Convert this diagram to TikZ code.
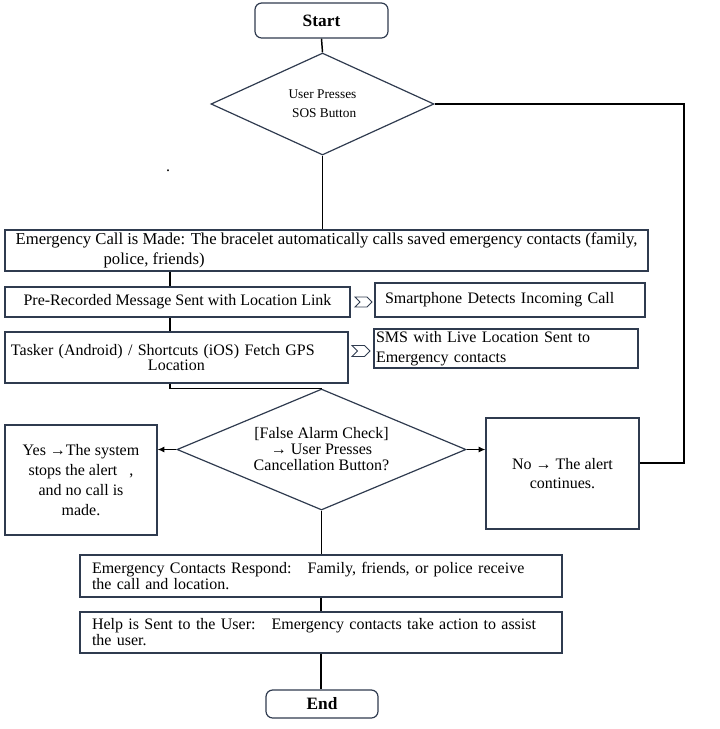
\documentclass[tikz,border=0pt]{standalone}
\usepackage{fontspec}
\setmainfont{Liberation Serif}
\usetikzlibrary{shapes.geometric,shapes.symbols,arrows.meta}
\definecolor{boxline}{HTML}{2F3B4F}

\begin{document}
\begin{tikzpicture}[x=0.75pt,y=-0.75pt,
    font=\fontsize{12}{14}\selectfont,
    box/.style={draw=boxline,line width=0.9pt,inner sep=0pt},
    term/.style={box,rounded corners=5pt,font=\fontsize{13}{15}\selectfont\bfseries},
    decide/.style={box,shape=diamond},
    chev/.style={draw=boxline,line width=0.7pt,shape=signal,signal from=west,signal to=east,inner sep=0pt},
    link/.style={line width=1.1pt},
    flow/.style={link,-{Latex[length=5pt,width=4.5pt]}}]
            \useasboundingbox (0,0) rectangle (719,729);
            % start and first decision
            \node[term,minimum width=99.75pt,minimum height=26.25pt] (start) at (321.5,20.5) {Start};
            \node[decide,aspect=2.19,minimum width=167.25pt,minimum height=76.5pt,align=center,font=\fontsize{10}{14}\selectfont] (sos) at (322.5,104) {User Presses\\\ SOS Button};
            \node (dot) at (168,171) {.};
            % call steps
            \node[box,minimum width=482.25pt,minimum height=30.75pt,align=left,font=\fontsize{12.5}{14.5}\selectfont] (call) at (326.5,250.5)
                {Emergency Call is Made: The bracelet automatically calls saved emergency contacts (family,\\\hspace*{66pt}police, friends)};
            \node[box,minimum width=258.75pt,minimum height=22.5pt] (pre) at (177.5,302) {Pre-Recorded Message Sent with Location Link};
            \node[chev,minimum width=12.75pt,minimum height=7.5pt] (chevA) at (363.5,302) {};
            \node[box,minimum width=202.5pt,minimum height=25.5pt,text width=187.5pt,inner xsep=7.5pt,align=left] (phone) at (510,300) {Smartphone Detects Incoming Call};
            \node[box,minimum width=257.25pt,minimum height=38.25pt,text width=248.25pt,inner xsep=4.5pt,align=left] (tasker) at (176.5,357.5)
                {Tasker (Android) / Shortcuts (iOS) Fetch GPS\\[-2.5pt]\hspace*{102.75pt}Location};
            \node[chev,minimum width=13.5pt,minimum height=8.25pt] (chevB) at (361,351) {};
            \node[box,minimum width=198pt,minimum height=29.25pt,text width=195pt,inner xsep=1.5pt,align=left,font=\fontsize{12}{15}\selectfont] (sms) at (506,348.5)
                {SMS with Live Location Sent to\\Emergency contacts};
            % false alarm check
            \node[decide,aspect=2.39,minimum width=216.75pt,minimum height=90.75pt,align=center,font=\fontsize{12}{12}\selectfont] (alarm) at (321.5,449.5)
                {[False Alarm Check]\\→ User Presses\\Cancellation Button?};
            \node[box,minimum width=114pt,minimum height=82.5pt,align=center,font=\fontsize{12}{15}\selectfont] (yes) at (81,480)
                {Yes →The system\\stops the alert \ \ ,\\and no call is\\made.};
            \node[box,minimum width=114.75pt,minimum height=83.25pt,align=center,font=\fontsize{12}{14.25}\selectfont] (no) at (562.5,473.5)
                {No → The alert\\continues.};
            % responses
            \node[box,minimum width=361.5pt,minimum height=31.5pt,text width=343.5pt,inner xsep=9pt,align=left,font=\fontsize{12}{12}\selectfont] (respond) at (321,576)
                {Emergency Contacts Respond:\ \ \ Family, friends, or police receive\\the call\ and location.};
            \node[box,minimum width=361.5pt,minimum height=30.75pt,text width=343.5pt,inner xsep=9pt,align=left,font=\fontsize{12}{12}\selectfont] (help) at (321,632.5)
                {Help is Sent to the User:\ \ \ Emergency contacts take action to assist\\the user.};
            \node[term,minimum width=84pt,minimum height=21pt] (finish) at (322,704) {End};
            % connectors
            \coordinate (spine) at (170,0);
            \coordinate (loop) at (684,104);
            \draw[link] (start.south) -- (sos.north);
            \draw[link] (sos.south) -- (sos.south |- call.north);
            \draw[link] (spine |- call.south) -- (spine |- pre.north);
            \draw[link] (spine |- pre.south) -- (spine |- tasker.north);
            \draw[link] (spine |- tasker.south) |- (alarm.north);
            \draw[flow] (alarm.west) -- (alarm.west -| yes.east);
            \draw[flow] (alarm.east) -- (alarm.east -| no.west);
            \draw[link] (alarm.south) -- (alarm.south |- respond.north);
            \draw[link] (respond.south) -- (help.north);
            \draw[link] (help.south) -- (help.south |- finish.north);
            \draw[link] (sos.east) -- (sos.east -| loop) |- ([yshift=7.9pt]no.east);
        \end{tikzpicture}
\end{document}
